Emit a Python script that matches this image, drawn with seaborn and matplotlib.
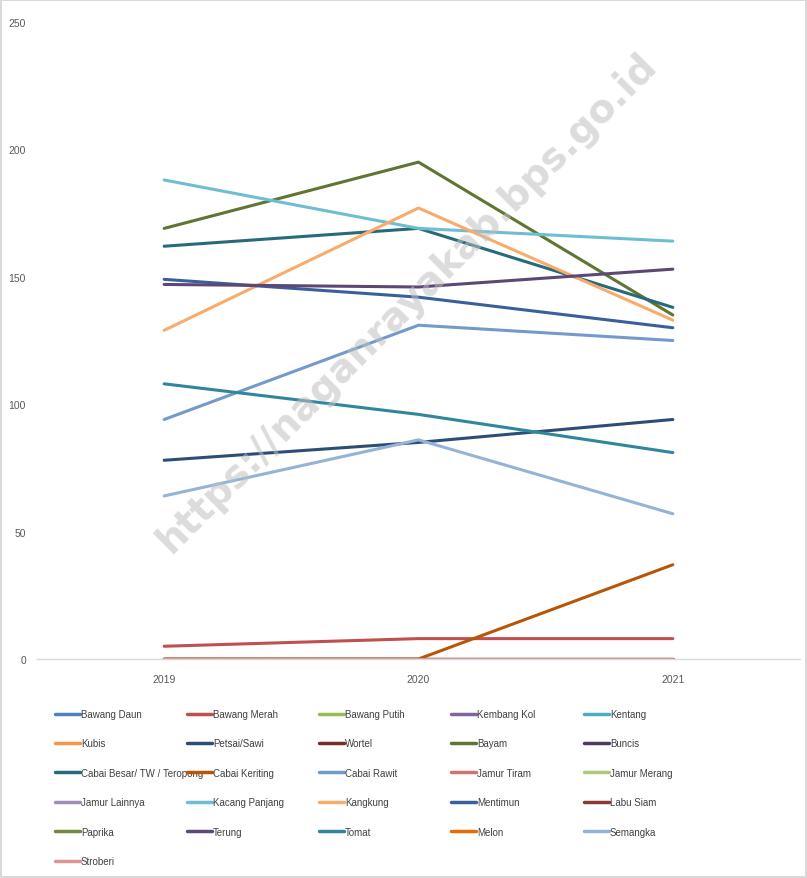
import numpy as np
import pandas as pd
import matplotlib
matplotlib.use('Agg')
import matplotlib.pyplot as plt
import seaborn as sns

"""Data"""

years = [2019, 2020, 2021]

komoditas = ['Bawang Daun', 'Bawang Merah', 'Bawang Putih', 'Kembang Kol', 'Kentang',
             'Kubis', 'Petsai/Sawi', 'Wortel', 'Bayam', 'Buncis',
             'Cabai Besar/ TW / Teropong', 'Cabai Keriting', 'Cabai Rawit', 'Jamur Tiram', 'Jamur Merang',
             'Jamur Lainnya', 'Kacang Panjang', 'Kangkung', 'Mentimun', 'Labu Siam',
             'Paprika', 'Terung', 'Tomat', 'Melon', 'Semangka',
             'Stroberi']

warna = ['#4F81BD', '#C0504D', '#9BBB59', '#8064A2', '#4BACC6',
         '#F79646', '#2C4D75', '#772C2A', '#5F7530', '#4D3B62',
         '#276A7C', '#B65708', '#729ACA', '#CD7371', '#AFC97A',
         '#A08EB8', '#6FBDD1', '#F9AB6B', '#3A5F9A', '#8C3836',
         '#71893F', '#5C4776', '#31859C', '#E46C0A', '#95B3D7',
         '#D99694']

# series (everything else sits on zero)
bawang_merah = [5, 8, 8]
petsai_sawi = [78, 85, 94]
bayam = [169, 195, 135]
cabai_besar = [162, 169, 138]
cabai_keriting = [0, 0, 37]
cabai_rawit = [94, 131, 125]
kacang_panjang = [188, 169, 164]
kangkung = [129, 177, 133]
mentimun = [149, 142, 130]
terung = [147, 146, 153]
tomat = [108, 96, 81]
semangka = [64, 86, 57]
nol = [0, 0, 0]

nilai = {k: nol for k in komoditas}
nilai.update({
    'Bawang Merah': bawang_merah,
    'Petsai/Sawi': petsai_sawi,
    'Bayam': bayam,
    'Cabai Besar/ TW / Teropong': cabai_besar,
    'Cabai Keriting': cabai_keriting,
    'Cabai Rawit': cabai_rawit,
    'Kacang Panjang': kacang_panjang,
    'Kangkung': kangkung,
    'Mentimun': mentimun,
    'Terung': terung,
    'Tomat': tomat,
    'Semangka': semangka,
})

rows = []
for k in komoditas:
    for th, v in zip(years, nilai[k]):
        rows.append({'tahun': th, 'komoditas': k, 'nilai': v})
df = pd.DataFrame(rows)

"""Plot"""

sns.set_theme(style='white')
plt.rcParams['font.family'] = ['Liberation Sans', 'DejaVu Sans']

W, H = 807, 879
fig = plt.figure(figsize=(W / 100, H / 100), dpi=100)
fig.patch.set_edgecolor('#d9d9d9')
fig.patch.set_linewidth(1.5)
ax = fig.add_axes([37 / W, 1 - 660 / H, (800 - 37) / W, (660 - 23) / H])

sns.lineplot(data=df, x='tahun', y='nilai', hue='komoditas', hue_order=komoditas,
             palette=dict(zip(komoditas, warna)), linewidth=2.2, ax=ax, legend=False,
             sort=False)

ax.set_xlim(2018.5, 2021.5)
ax.set_ylim(0, 250)
ax.set_xticks(years)
ax.set_xticklabels([str(y) for y in years])
ax.set_yticks([0, 50, 100, 150, 200, 250])
ax.set_xlabel('')
ax.set_ylabel('')
ax.tick_params(axis='both', length=0, labelsize=7.5, labelcolor='#595959')
ax.tick_params(axis='x', pad=11)
ax.tick_params(axis='y', pad=8)
for s in ['top', 'right', 'left']:
    ax.spines[s].set_visible(False)
ax.spines['bottom'].set_color('#d9d9d9')
ax.spines['bottom'].set_linewidth(1)
ax.spines['bottom'].set_zorder(0)

# legend: 5 fixed columns, filled row by row like the original
kolom_x = [55, 187, 319, 451, 584]
for col in range(5):
    idx = list(range(col, len(komoditas), 5))
    lg = fig.legend([plt.Line2D([], [], color=warna[i], linewidth=2.5) for i in idx],
                    [komoditas[i] for i in idx],
                    loc='upper left', bbox_to_anchor=(kolom_x[col] / W, 1 - 710 / H),
                    frameon=False, fontsize=7, handlelength=2.6, handletextpad=0.05,
                    borderpad=0, borderaxespad=0, labelspacing=2.0, labelcolor='#404040')

# watermark
fig.text(0.505, 1 - 303 / H, 'https://naganrayakab.bps.go.id', rotation=45,
         ha='center', va='center', fontsize=28, fontweight='bold', color='#bfbfbf',
         alpha=0.55, family=['DejaVu Sans'])

plt.savefig('out.png', dpi=100)
